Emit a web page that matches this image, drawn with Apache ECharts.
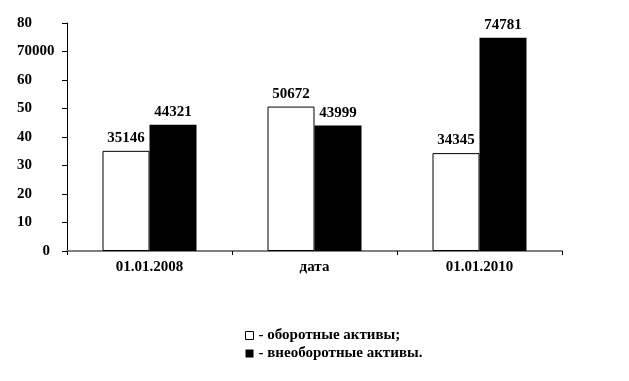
<!DOCTYPE html>
<html><head><meta charset="utf-8">
<script src="https://cdn.jsdelivr.net/npm/echarts@6/dist/echarts.min.js"></script>
<style>html,body{margin:0;padding:0;background:#fff}#c{width:629px;height:381px}</style>
</head><body><div id="c"></div>
<script>
const categories = ['01.01.2008', 'дата', '01.01.2010'];
const currentAssets = [35146, 50672, 34345];
const nonCurrentAssets = [44321, 43999, 74781];
const yTickLabels = ['0', '10', '20', '30', '40', '50', '60', '70000', '80'];
const seriesNames = ['- оборотные активы;', '- внеоборотные активы.'];

const font = '"Liberation Serif", "Times New Roman", serif';
const chart = echarts.init(document.getElementById('c'));
const toK = v => v / 1000;
const labelCfg = {show: true, position: 'top', distance: 5, color: '#000', fontFamily: font, fontWeight: 'bold', fontSize: 15,
  formatter: p => String(p.data.raw)};
const richBase = {fontFamily: font, fontWeight: 'bold', fontSize: 15, color: '#000'};
chart.setOption({
  animation: false,
  backgroundColor: '#fff',
  grid: {left: 67, right: 67, top: 23, bottom: 130, containLabel: false},
  legend: {
    orient: 'vertical', left: 240, top: 323, itemWidth: 8, itemHeight: 8, itemGap: 3,
    textStyle: {fontFamily: font, fontWeight: 'bold', fontSize: 15, color: '#000'},
    data: [
      {name: seriesNames[0], icon: 'rect', itemStyle: {color: '#fff', borderColor: '#000', borderWidth: 1}},
      {name: seriesNames[1], icon: 'rect', itemStyle: {color: '#000'}}
    ]
  },
  xAxis: {
    type: 'category', data: categories,
    axisLine: {lineStyle: {color: '#808080', width: 2}},
    axisTick: {show: true, length: 4, lineStyle: {color: '#000'}},
    axisLabel: {color: '#000', fontFamily: font, fontWeight: 'bold', fontSize: 15, margin: 9}
  },
  yAxis: {
    type: 'value', min: 0, max: 80, interval: 10,
    splitLine: {show: false},
    axisLine: {show: true, lineStyle: {color: '#000'}},
    axisTick: {show: true, length: 5, lineStyle: {color: '#000'}},
    axisLabel: {margin: 12, align: 'right',
      formatter: (v) => {
        const t = yTickLabels[Math.round(v / 10)];
        return v === 0 ? '{z|' + t + '}' : '{l|' + t + '}';
      },
      rich: {
        l: Object.assign({width: 38, align: 'left'}, richBase),
        z: Object.assign({width: 33, align: 'right', padding: [0, 5, 0, 0]}, richBase)
      }
    }
  },
  series: [
    {name: seriesNames[0], type: 'bar', barWidth: 47, barGap: '0%',
      itemStyle: {color: '#fff', borderColor: '#000', borderWidth: 1},
      label: labelCfg,
      data: currentAssets.map(v => ({value: toK(v), raw: v}))},
    {name: seriesNames[1], type: 'bar', barWidth: 47, barGap: '0%',
      itemStyle: {color: '#000'},
      label: labelCfg,
      data: nonCurrentAssets.map(v => ({value: toK(v), raw: v}))}
  ]
});
</script></body></html>
